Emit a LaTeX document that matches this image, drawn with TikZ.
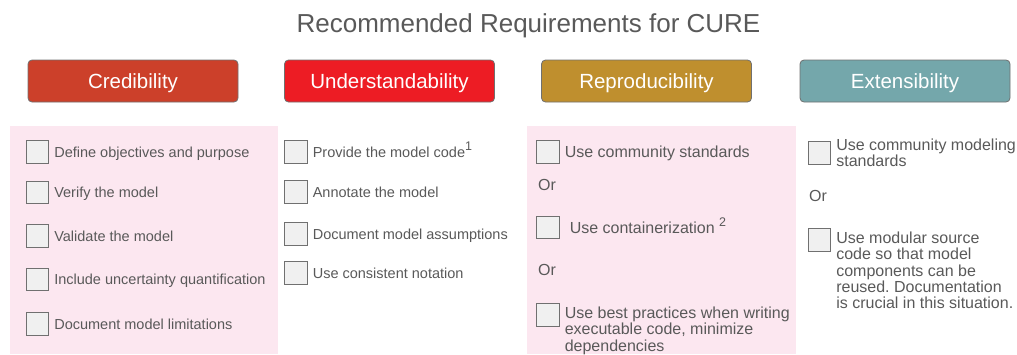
\documentclass[tikz,border=0pt]{standalone}
\usepackage{fontspec}
\setmainfont{Liberation Sans}
\usetikzlibrary{positioning}
\definecolor{cred}{RGB}{204,64,42}
\definecolor{under}{RGB}{237,28,36}
\definecolor{repro}{RGB}{191,143,46}
\definecolor{exten}{RGB}{116,167,171}
\definecolor{panel}{RGB}{252,231,240}
\definecolor{ink}{RGB}{89,89,89}
\definecolor{tick}{RGB}{240,240,240}
\definecolor{rim}{RGB}{112,112,112}
\newcommand\fnmark[1]{\raisebox{0.44em}{\fontsize{12.5}{12.5}\selectfont #1}}
\frenchspacing

\begin{document}
\begin{tikzpicture}[x=1pt,y=-1pt,node distance=5pt,
  hd/.style={draw=rim,line width=0.8pt,rounded corners=4pt,minimum width=210pt,minimum height=42pt,text=white,text height=18pt,text depth=3.4pt,font=\fontsize{20.5}{24}\selectfont},
  cb/.style={draw=rim,line width=0.7pt,fill=tick,minimum size=22.5pt,inner sep=0pt},
  it/.style={inner sep=0pt,text=ink,text height=12.4pt,text depth=2pt,font=\fontsize{14.5}{16}\selectfont},
  itl/.style={inner sep=0pt,text=ink,align=left,font=\fontsize{16}{16.2}\selectfont},
  one/.style={text height=13.5pt,text depth=2pt}]
  \useasboundingbox (0,0) rectangle (1017,354);
  % pink backgrounds behind two of the columns
  \fill[panel] (10,126) rectangle (278,354);
  \fill[panel] (527,126) rectangle (796,354);
  \node[anchor=base,text=ink,font=\fontsize{26}{30}\selectfont] (title) at (528.5,32) {Recommended Requirements for CURE};
  \node[hd,fill=cred] (h1) at (133,81) {Credibility};
  \node[hd,fill=under] (h2) at (389.5,81) {Understandability};
  \node[hd,fill=repro] (h3) at (646.5,81) {Reproducibility};
  \node[hd,fill=exten] (h4) at (905,81) {Extensibility};
  % credibility
  \foreach \y/\t [count=\i] in {152/Define objectives and purpose,192.5/Verify the model,236/Validate the model,279.5/Include uncertainty quantification,324/Document model limitations}{
    \node[cb] (c\i) at (37.5,\y) {};
    \node[it,right=of c\i] (ct\i) {\t};
  }
  % understandability
  \foreach \y/\t [count=\i] in {152/Provide the model code\fnmark{1},192/Annotate the model,234/Document model assumptions,273/Use consistent notation}{
    \node[cb] (u\i) at (296,\y) {};
    \node[it,right=of u\i] (ut\i) {\t};
  }
  % reproducibility
  \node[cb] (r1) at (548,152) {};
  \node[itl,one,right=of r1] (rt1) {Use community standards};
  \node[itl,one,anchor=west] (ror1) at (538,185) {Or};
  \node[cb] (r2) at (548,227.5) {};
  \node[itl,one,right=10pt of r2] (rt2) {Use containerization \fnmark{2}};
  \node[itl,one,anchor=west] (ror2) at (538,270) {Or};
  \node[cb] (r3) at (548,315) {};
  \node[itl,anchor=north west] (rt3) at ([xshift=5pt,yshift=-3.5pt]r3.north east) {Use best practices when writing\\executable code, minimize\\dependencies};
  % extensibility
  \node[cb] (e1) at (819.5,153) {};
  \node[itl,right=of e1] (et1) {Use community modeling\\standards};
  \node[itl,one,anchor=west] (eor) at (809,196) {Or};
  \node[cb] (e2) at (819.5,240) {};
  \node[itl,anchor=north west] (et2) at ([xshift=5pt,yshift=-3.5pt]e2.north east) {Use modular source\\code so that model\\components can be\\reused. Documentation\\is crucial in this situation.};
\end{tikzpicture}
\end{document}
